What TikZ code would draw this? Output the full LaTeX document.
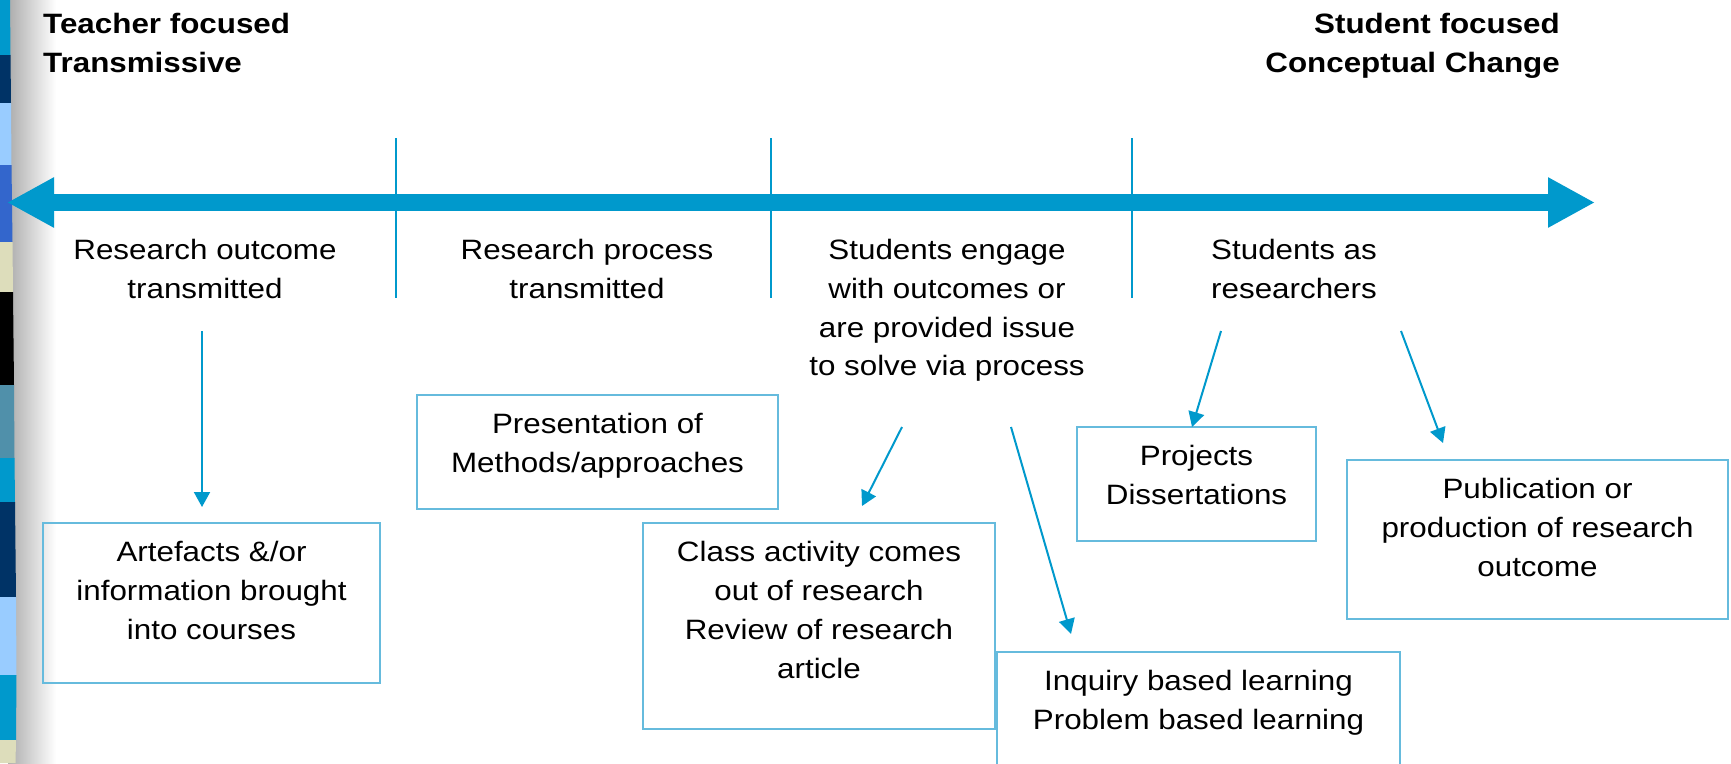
\documentclass[tikz,border=0pt]{standalone}
\usepackage{fontspec}
\setmainfont{Liberation Sans}[FakeStretch=1.12]
\usetikzlibrary{arrows.meta, positioning}

\definecolor{lineblue}{HTML}{0099CC}
\definecolor{boxblue}{HTML}{66BBDD}
\definecolor{navy}{HTML}{003366}
\definecolor{skyblue}{HTML}{99CCFF}
\definecolor{royal}{HTML}{3366CC}
\definecolor{beige}{HTML}{DDDDBB}
\definecolor{steel}{HTML}{5090AA}

\begin{document}
\begin{tikzpicture}[
  x=1pt, y=-1pt,
  font=\fontsize{28}{38.8}\selectfont,
  heading/.style = {inner sep=0pt, font=\fontsize{28}{38.8}\selectfont\bfseries},
  stage/.style = {inner sep=0pt, anchor=north, align=center},
  box/.style = {draw=boxblue, line width=1.3pt, inner sep=0pt},
  boxtext/.style = {inner sep=0pt, anchor=north, align=center, yshift=-19pt},
  spectrum/.style = {draw=lineblue, line width=17pt,
    {Triangle[length=47pt,width=47pt]}-{Triangle[length=47pt,width=47pt]}},
  divider/.style = {draw=lineblue, line width=2pt},
  arrow/.style = {draw=lineblue, line width=2pt, -{Triangle[length=15pt,width=16pt]}}
]

\clip (0,0) rectangle (1731,763);
\fill[white] (0,0) rectangle (1731,763);

% slide edge stripe
\shade[left color=gray!65, right color=white] (8,0) rectangle (56,763);
\fill[lineblue] (0,0) -- (10,0) -- (10.5,55) -- (0,55) -- cycle;
\fill[navy] (0,55) -- (10.5,55) -- (11,103) -- (0,103) -- cycle;
\fill[skyblue] (0,103) -- (11,103) -- (11.5,165) -- (0,165) -- cycle;
\fill[royal] (0,165) -- (11.5,165) -- (12.5,242) -- (0,242) -- cycle;
\fill[beige] (0,242) -- (12.5,242) -- (13,292) -- (0,292) -- cycle;
\fill[black] (0,292) -- (13,292) -- (14,385) -- (0,385) -- cycle;
\fill[steel] (0,385) -- (14,385) -- (14.5,458) -- (0,458) -- cycle;
\fill[lineblue] (0,458) -- (14.5,458) -- (15,502) -- (0,502) -- cycle;
\fill[navy] (0,502) -- (15,502) -- (16,597) -- (0,597) -- cycle;
\fill[skyblue] (0,597) -- (16,597) -- (16.5,675) -- (0,675) -- cycle;
\fill[lineblue] (0,675) -- (16.5,675) -- (16,740) -- (0,740) -- cycle;
\fill[beige] (0,740) -- (16,740) -- (15.5,763) -- (0,763) -- cycle;

% headings
\node[heading, anchor=north west, align=left] (teacher) at (43,13)
  {Teacher focused\\Transmissive};
\node[heading, anchor=north east, align=right] (student) at (1560,13)
  {Student focused\\Conceptual Change};

% spectrum arrow and dividers
\coordinate (leftEnd) at (7,202.5);
\coordinate (rightEnd) at (1595,202.5);
\draw[spectrum] (leftEnd) -- (rightEnd);
\draw[divider] (396,138) -- (396,298);
\draw[divider] (771,138) -- (771,298);
\draw[divider] (1132,138) -- (1132,298);

% stages
\node[stage] (outcome) at (205,239) {Research outcome\\transmitted};
\node[stage] (process) at (587,239) {Research process\\transmitted};
\node[stage] (engage) at (947,239)
  {Students engage\\with outcomes or\\are provided issue\\to solve via process};
\node[stage] (researchers) at (1294,239) {Students as\\researchers};

% activity boxes
\node[box, minimum width=337pt, minimum height=160pt,
  label={[boxtext]north:{Artefacts \&/or\\information brought\\into courses}}]
  (artefacts) at (211.5,603) {};
\node[box, minimum width=361pt, minimum height=114pt,
  label={[boxtext]north:{Presentation of\\Methods/approaches}}]
  (methods) at (597.5,452) {};
\node[box, minimum width=352pt, minimum height=206pt,
  label={[boxtext]north:{Class activity comes\\out of research\\Review of research\\article}}]
  (classwork) at (819,626) {};
\node[box, minimum width=403pt, minimum height=138pt,
  label={[boxtext]north:{Inquiry based learning\\Problem based learning}}]
  (inquiry) at (1198.5,721) {};
\node[box, minimum width=239pt, minimum height=114pt,
  label={[boxtext]north:{Projects\\Dissertations}}]
  (projects) at (1196.5,484) {};
\node[box, minimum width=381pt, minimum height=159pt,
  label={[boxtext]north:{Publication or\\production of research\\outcome}}]
  (publication) at (1537.5,539.5) {};

% links from stages to activities
\coordinate (outcomeFoot) at (202,331);
\coordinate (artefactsTop) at (202,507);
\coordinate (engageFootA) at (902,427);
\coordinate (classworkTop) at (862,506);
\coordinate (engageFootB) at (1011,427);
\coordinate (inquiryTop) at (1071,634);
\coordinate (researchersFootA) at (1221,331);
\coordinate (projectsTop) at (1192,427);
\coordinate (researchersFootB) at (1401,331);
\coordinate (publicationTop) at (1443,443);

\draw[arrow] (outcomeFoot) -- (artefactsTop);
\draw[arrow] (engageFootA) -- (classworkTop);
\draw[arrow] (engageFootB) -- (inquiryTop);
\draw[arrow] (researchersFootA) -- (projectsTop);
\draw[arrow] (researchersFootB) -- (publicationTop);

\end{tikzpicture}
\end{document}
